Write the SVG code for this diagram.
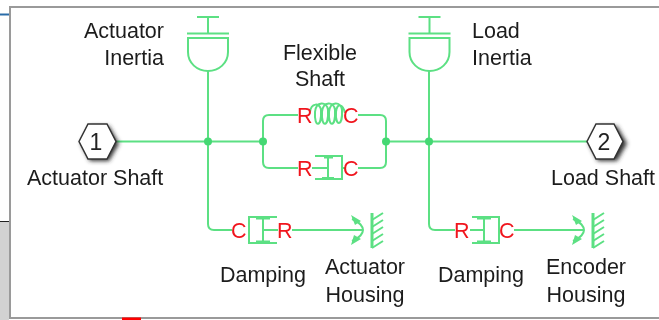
<svg xmlns="http://www.w3.org/2000/svg" width="659" height="320" viewBox="0 0 659 320">
<style>
.t{font-family:"Liberation Sans",Arial,sans-serif;font-size:21.500px;fill:#1c1c1c}
.p{font-family:"Liberation Sans",Arial,sans-serif;font-size:21.500px;fill:#f0141e}
.n{font-family:"Liberation Sans",Arial,sans-serif;font-size:23px;fill:#222;text-anchor:middle}
.g{fill:none;stroke:#5ce083;stroke-width:2}
.h{fill:none;stroke:#5ce083;stroke-width:3}
.d{fill:#45d873}
.f{fill:#5ce083}
.hex{fill:#fff;stroke:#333;stroke-width:1.500}
</style>
<defs>
<filter id="s" x="-30%" y="-30%" width="170%" height="170%"><feGaussianBlur stdDeviation="2"/></filter>
<filter id="b" x="0" y="0" width="100%" height="100%"><feGaussianBlur stdDeviation="0.4"/></filter>
<g id="inertia"><path class="g" d="M-11 17H11M0 17V33.500M-21 33.500H21M-20 38H20V52C20 63 11 71 0 71C-11 71 -20 63 -20 52V38Z"/></g>
<g id="ref"><path class="g" d="M-9 -11C-1 -8 2 -3 2 0C2 3 -1 8 -9 11"/><path class="f" d="M-10 -15L0 -9L-6 -5ZM-10 15L0 9L-7 5Z"/><path class="h" d="M11 -17V18"/><path class="g" d="M11 -10L22 -17M11 -3L22 -10M11 4L22 -3M11 11L22 4M11 18L22 11"/></g>
</defs>
<g filter="url(#b)">
<rect width="659" height="320" fill="#fff"/>
<g id="surround">
<rect x="0" y="222" width="9" height="98" fill="#d2d2d2"/>
<path d="M0 14.500H9" stroke="#2a6ca8" stroke-width="2"/>
<path d="M0 221.500H9" stroke="#222" stroke-width="1"/>
<path d="M659 7H10V318H659" fill="none" stroke="#9a9a9a" stroke-width="2"/>
<rect x="122" y="317.500" width="19" height="2.500" fill="#f00"/>
</g>
<g id="connectors">
<path class="g" d="M116 141.500H263M386 141.500H587"/>
<path class="g" d="M208 71V224Q208 230 214 230H232"/>
<path class="g" d="M429 71V224Q429 230 435 230H455"/>
<path class="g" d="M298 115H269Q263 115 263 121V162Q263 168 269 168H298"/>
<path class="g" d="M358 115H380Q386 115 386 121V162Q386 168 380 168H358"/>
<path class="g" d="M292 230H363"/>
<path class="g" d="M514 230H584"/>
<circle class="d" cx="208" cy="141.500" r="4"/>
<circle class="d" cx="263" cy="141.500" r="4"/>
<circle class="d" cx="386" cy="141.500" r="4"/>
<circle class="d" cx="429" cy="141.500" r="4"/>
</g>
<g id="actuator-shaft">
<path d="M79 141.500L88 124H107L117 141.500L107 159H88Z" fill="#333" filter="url(#s)" transform="translate(2 2)"/>
<path class="hex" d="M79 141.500L88 124H107L116 141.500L107 159H88Z"/>
<text class="n" x="96" y="150">1</text>
<text class="t" x="27" y="185">Actuator Shaft</text>
</g>
<g id="load-shaft">
<path d="M587 141.500L596 124H615L625 141.500L615 159H596Z" fill="#333" filter="url(#s)" transform="translate(2 2)"/>
<path class="hex" d="M587 141.500L596 124H614L623 141.500L614 159H596Z"/>
<text class="n" x="604" y="150">2</text>
<text class="t" x="551" y="185">Load Shaft</text>
</g>
<g id="actuator-inertia">
<use href="#inertia" x="208"/>
<text class="t" x="164" y="38" text-anchor="end">Actuator</text>
<text class="t" x="164" y="65" text-anchor="end">Inertia</text>
</g>
<g id="load-inertia">
<use href="#inertia" x="429.500"/>
<text class="t" x="472" y="38">Load</text>
<text class="t" x="472" y="65">Inertia</text>
</g>
<g id="flexible-shaft">
<text class="t" x="320" y="60" text-anchor="middle">Flexible</text>
<text class="t" x="320" y="86" text-anchor="middle">Shaft</text>
<path class="g" d="M310 112C311 103 320 102 321 110C322 128 314 128 315 112C316 101 327 101 328 110C329 128 321 128 322 112C323 101 334 101 335 110C336 128 328 128 329 112C330 101 341 101 342 110C343 127 335 127 336 112C337 102 343 104 345 113"/>
<text class="p" x="297" y="123">R</text>
<text class="p" x="343" y="123">C</text>
</g>
<g id="shaft-damper">
<path class="g" d="M312 168H328M342 168H345M315 156H342V179H315M328 157V178M324 157.500H333M322 178H334"/>
<text class="p" x="297" y="176">R</text>
<text class="p" x="343" y="176">C</text>
</g>
<g id="actuator-damping">
<path class="g" d="M277 217H249V243H277M263 218V242M256 218.500H270M256 241.500H270M263 230H278"/>
<text class="p" x="231" y="238">C</text>
<text class="p" x="277" y="238">R</text>
<text class="t" x="263" y="282" text-anchor="middle">Damping</text>
</g>
<g id="actuator-housing">
<use href="#ref" x="361" y="230"/>
<text class="t" x="365" y="274" text-anchor="middle">Actuator</text>
<text class="t" x="365" y="302" text-anchor="middle">Housing</text>
</g>
<g id="load-damping">
<path class="g" d="M472 217H499V243H472M484 218V242M477 218.500H491M477 241.500H491M470 230H484"/>
<text class="p" x="454" y="238">R</text>
<text class="p" x="499" y="238">C</text>
<text class="t" x="481" y="282" text-anchor="middle">Damping</text>
</g>
<g id="encoder-housing">
<use href="#ref" x="582" y="230"/>
<text class="t" x="586" y="274" text-anchor="middle">Encoder</text>
<text class="t" x="586" y="302" text-anchor="middle">Housing</text>
</g>
</g>
</svg>
